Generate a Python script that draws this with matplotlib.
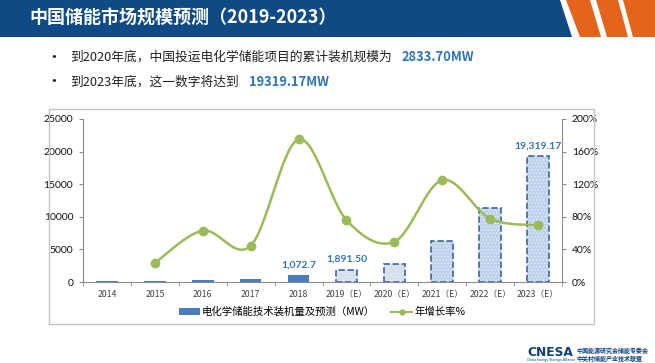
import numpy as np
import matplotlib
matplotlib.use('Agg')
import matplotlib.pyplot as plt
from matplotlib.patches import Polygon, Rectangle, Patch
from matplotlib.lines import Line2D

# ---------------- data ----------------
years = ['2014', '2015', '2016', '2017', '2018',
         '2019（E）', '2020（E）', '2021（E）', '2022（E）', '2023（E）']
capacity_mw = [90, 140, 240, 390, 1072.7, 1891.5, 2833.7, 6280, 11350, 19319.17]
growth_pct = [np.nan, 23.3, 63.0, 44.5, 175.0, 76.0, 49.4, 125.0, 77.7, 69.6]
bar_labels = {4: '1,072.7', 5: '1,891.50', 9: '19,319.17'}
n_actual = 5
left_ticks = [0, 5000, 10000, 15000, 20000, 25000]
right_ticks = [0, 40, 80, 120, 160, 200]
title = '中国储能市场规模预测（2019-2023）'
bullet1 = '到2020年底，中国投运电化学储能项目的累计装机规模为'
bullet1_val = '2833.70MW'
bullet2 = '到2023年底，这一数字将达到'
bullet2_val = '19319.17MW'
legend_bar = '电化学储能技术装机量及预测（MW）'
legend_line = '年增长率%'

# ---------------- style ----------------
W, H = 655, 363
CJK = ['Noto Sans CJK SC', 'DejaVu Sans']
NUM = ['Lato', 'DejaVu Sans']
plt.rcParams['font.family'] = CJK
plt.rcParams['hatch.linewidth'] = 0.6

BLUE_HDR = '#0f4a85'
ORANGE = '#e5641c'
BAR_SOLID = '#4a7ebb'
BAR_EDGE = '#4a6fa8'
GREEN = '#9bbb59'
LBL_BLUE = '#2f75b5'
AXIS_GRAY = '#8c8c8c'


def fx(x):
    return x / W


def fy(y):
    return 1 - y / H


fig = plt.figure(figsize=(W / 100, H / 100), dpi=100)
fig.patch.set_facecolor('white')

# header banner
fig.add_artist(Polygon([(fx(0), fy(0)), (fx(560), fy(0)), (fx(572), fy(37)), (fx(0), fy(37))],
                       closed=True, transform=fig.transFigure, color=BLUE_HDR, lw=0))
for (t0, t1, b0, b1) in [(566, 590, 580, 601), (596, 618, 607, 628), (623, 660, 633, 670)]:
    fig.add_artist(Polygon([(fx(t0), fy(0)), (fx(t1), fy(0)), (fx(b1), fy(37)), (fx(b0), fy(37))],
                           closed=True, transform=fig.transFigure, color=ORANGE, lw=0))
fig.text(fx(29), fy(18.5), title, color='white', fontsize=13, fontweight='bold',
         va='center', ha='left', family=CJK)

# bullets
fig.text(fx(45), fy(57), '•', fontsize=12, va='center', color='#222222', family=CJK)
fig.text(fx(70), fy(57), bullet1, fontsize=9.2, va='center', color='#222222', family=CJK)
fig.text(fx(402), fy(57), bullet1_val, fontsize=9.3, va='center', color=LBL_BLUE,
         fontweight='bold', family=CJK)
fig.text(fx(45), fy(82), '•', fontsize=12, va='center', color='#222222', family=CJK)
fig.text(fx(70), fy(82), bullet2, fontsize=9.2, va='center', color='#222222', family=CJK)
fig.text(fx(249), fy(82), bullet2_val, fontsize=9.3, va='center', color=LBL_BLUE,
         fontweight='bold', family=CJK)

# chart frame
fig.add_artist(Rectangle((fx(49), fy(324)), (594 - 49) / W, (324 - 109) / H, fill=False,
                         ec='#c4c4c4', lw=1.0, transform=fig.transFigure))

# ---------------- chart ----------------
ax = fig.add_axes([fx(83), fy(282), (562 - 83) / W, (282 - 119) / H])
ax.set_facecolor('none')
x = np.arange(len(years))
bw = 0.45

ax.bar(x[:n_actual], capacity_mw[:n_actual], width=bw, color=BAR_SOLID, zorder=2)
proj_fill = ['#d5dfec', '#d5dfec', '#bdd3ec', '#bdd3ec', '#bdd3ec']
ax.bar(x[n_actual:], capacity_mw[n_actual:], width=bw, color=proj_fill,
       edgecolor='#e6eef8', hatch='.....', lw=0, zorder=2)
ax.bar(x[n_actual:], capacity_mw[n_actual:], width=bw, fill=False,
       edgecolor=BAR_EDGE, lw=1.3, linestyle=(0, (3.5, 1.5)), zorder=3)

for i, s in bar_labels.items():
    ax.annotate(s, (x[i], capacity_mw[i]), xytext=(0, 4), textcoords='offset points',
                ha='center', va='bottom', fontsize=7.5, fontweight='bold', color=LBL_BLUE,
                family=NUM)

ax.set_xlim(-0.5, len(years) - 0.5)
ax.set_ylim(0, 25000)
ax.set_yticks(left_ticks)
ax.set_yticklabels([str(v) for v in left_ticks], family=NUM, fontsize=7.5, color='#111111')
ax.set_xticks(x)
ax.set_xticklabels(years, fontsize=6.3, color='#404040', family=CJK)
ax.set_xticks(np.arange(-0.5, len(years), 1.0), minor=True)
ax.tick_params(axis='x', which='major', length=0, pad=6)
ax.tick_params(axis='x', which='minor', length=3, color=AXIS_GRAY, direction='out')
ax.tick_params(axis='y', length=3, color=AXIS_GRAY, direction='out', pad=4)
for sp in ['top', 'right']:
    ax.spines[sp].set_visible(False)
for sp in ['left', 'bottom']:
    ax.spines[sp].set_color(AXIS_GRAY)
    ax.spines[sp].set_linewidth(0.8)

ax2 = ax.twinx()
ax2.set_ylim(0, 200)
ax2.set_yticks(right_ticks)
ax2.set_yticklabels([f'{v}%' for v in right_ticks], family=NUM, fontsize=7.5, color='#111111')
ax2.tick_params(axis='y', length=3, color=AXIS_GRAY, direction='out', pad=4)
for sp in ['top', 'left', 'bottom']:
    ax2.spines[sp].set_visible(False)
ax2.spines['right'].set_color(AXIS_GRAY)
ax2.spines['right'].set_linewidth(0.8)


def smooth(xs, ys, n=30):
    pts = np.column_stack([xs, ys])
    out = []
    for i in range(len(pts) - 1):
        p0 = pts[i - 1] if i > 0 else pts[i]
        p1, p2 = pts[i], pts[i + 1]
        p3 = pts[i + 2] if i + 2 < len(pts) else pts[i + 1]
        c1 = p1 + (p2 - p0) / 6
        c2 = p2 - (p3 - p1) / 6
        t = np.linspace(0, 1, n)[:, None]
        seg = (1 - t) ** 3 * p1 + 3 * (1 - t) ** 2 * t * c1 + 3 * (1 - t) * t ** 2 * c2 + t ** 3 * p2
        out.append(seg if i == 0 else seg[1:])
    return np.vstack(out)


g = np.array(growth_pct, dtype=float)
valid = ~np.isnan(g)
curve = smooth(x[valid].astype(float), g[valid])
ax2.plot(curve[:, 0], curve[:, 1], color=GREEN, lw=1.8, zorder=4)
ax2.plot(x[valid], g[valid], 'o', color=GREEN, ms=6, zorder=5)

# legend
handles = [Patch(facecolor=BAR_SOLID, edgecolor='none'),
           Line2D([0], [0], color=GREEN, lw=1.5, marker='o', ms=3.5)]
fig.legend(handles, [legend_bar, legend_line], loc='center', bbox_to_anchor=(fx(322), fy(312)),
           ncol=2, frameon=False, handlelength=2.0, handleheight=0.6,
           columnspacing=1.6, handletextpad=0.2, prop={'family': CJK, 'size': 7.5})

# logo
fig.text(fx(527), fy(353), 'CNESA', fontsize=8.8, fontweight='bold', color='#0d3f7a',
         va='center', ha='left', family=['DejaVu Sans'])
fig.text(fx(527), fy(360.5), 'China Energy Storage Alliance', fontsize=2.3, color='#0d3f7a',
         va='center', ha='left', family=['DejaVu Sans'])
fig.text(fx(576), fy(350), '中国能源研究会储能专委会', fontsize=4.3, color='#0d3f7a',
         va='center', ha='left', family=CJK, fontweight='bold')
fig.text(fx(576), fy(358), '中关村储能产业技术联盟', fontsize=4.3, color='#0d3f7a',
         va='center', ha='left', family=CJK, fontweight='bold')

fig.savefig('out.png', dpi=100)
